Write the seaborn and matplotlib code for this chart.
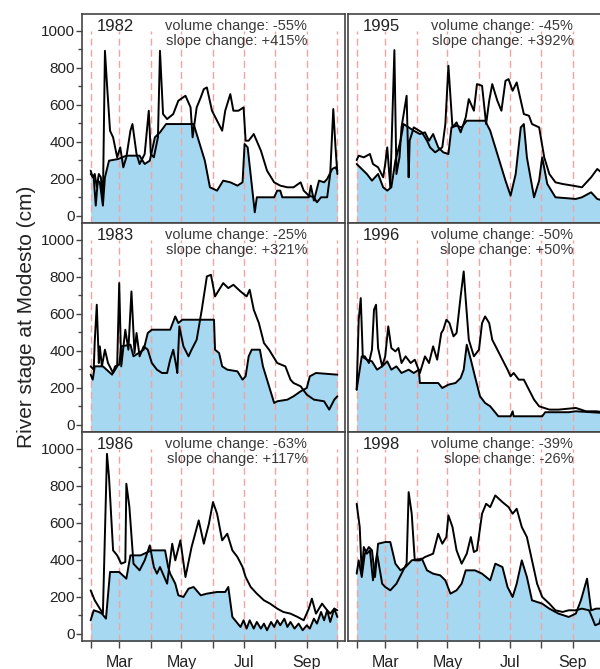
import matplotlib
matplotlib.use("Agg")
import matplotlib.pyplot as plt
import matplotlib.dates as mdates
from matplotlib.ticker import MultipleLocator
import pandas as pd
import seaborn as sns

# River stage at Modesto (cm), x = days after 1 February
# "a" = shaded series, "b" = open line

a1982_day = [0, 3, 5, 7, 9, 12, 14, 18, 27, 35, 48, 53, 58, 63, 68, 74, 101, 106, 112, 117, 124, 130, 137, 144, 149, 151,
             154, 161, 163, 180, 183, 186, 188, 214, 216, 219, 224, 229, 232, 237, 240, 242]
a1982_cm = [225, 207, 54, 189, 180, 54, 207, 297, 306, 324, 324, 279, 297, 423, 450, 495, 495, 405, 297, 153, 135, 189,
            180, 162, 180, 387, 369, 18, 99, 99, 135, 135, 99, 99, 162, 81, 189, 180, 198, 252, 261, 243]
b1982_day = [0, 2, 4, 6, 8, 10, 12, 14, 16, 19, 22, 26, 29, 32, 35, 39, 41, 45, 48, 53, 57, 59, 62, 66, 68, 71, 75, 81,
             86, 93, 98, 100, 104, 108, 111, 114, 119, 124, 129, 132, 137, 140, 145, 150, 152, 155, 160, 167, 173, 180,
             186, 193, 199, 206, 209, 214, 219, 222, 226, 232, 235, 238, 240, 242]
b1982_cm = [243, 207, 225, 153, 225, 207, 81, 891, 711, 459, 423, 315, 369, 261, 315, 459, 495, 333, 279, 333, 567, 333,
            315, 423, 891, 549, 522, 549, 621, 648, 585, 423, 585, 639, 684, 693, 567, 513, 459, 567, 657, 567, 567, 585,
            405, 405, 441, 351, 243, 180, 162, 153, 153, 180, 135, 108, 99, 72, 99, 99, 225, 576, 387, 225]

a1995_day = [0, 5, 10, 15, 21, 26, 30, 34, 38, 43, 46, 51, 56, 62, 67, 71, 75, 80, 85, 90, 93, 98, 103, 108, 126, 131,
             139, 146, 151, 156, 161, 164, 167, 174, 179, 182, 187, 195, 215, 221, 230, 236, 242]
a1995_cm = [279, 252, 225, 189, 225, 153, 135, 153, 297, 405, 495, 477, 459, 441, 450, 405, 441, 369, 342, 333, 477, 486,
            477, 513, 513, 459, 315, 189, 108, 225, 477, 495, 315, 99, 189, 315, 171, 99, 90, 99, 126, 90, 81]
b1995_day = [0, 2, 7, 13, 16, 21, 26, 28, 30, 33, 37, 39, 42, 44, 49, 51, 52, 56, 64, 69, 72, 77, 84, 87, 90, 94, 98,
             102, 107, 110, 115, 118, 123, 127, 130, 133, 138, 142, 146, 149, 153, 157, 164, 169, 172, 179, 184, 189,
             195, 202, 212, 221, 230, 236, 242]
b1995_cm = [300, 324, 315, 333, 279, 261, 207, 279, 369, 153, 895, 225, 315, 477, 648, 207, 405, 477, 450, 405, 369,
            342, 369, 495, 810, 477, 504, 450, 531, 630, 567, 711, 702, 495, 621, 711, 621, 567, 729, 738, 675, 720,
            549, 540, 495, 477, 315, 225, 180, 171, 162, 153, 207, 252, 225]

a1983_day = [0, 2, 4, 12, 21, 24, 28, 30, 39, 42, 47, 52, 56, 60, 78, 83, 86, 90, 121, 122, 126, 129, 134, 144, 149,
             152, 155, 158, 166, 169, 175, 180, 183, 193, 199, 206, 212, 215, 221, 242]
a1983_cm = [270, 243, 315, 315, 270, 315, 324, 423, 432, 369, 387, 405, 495, 513, 513, 585, 549, 567, 567, 405, 387,
            315, 297, 288, 243, 261, 369, 405, 405, 315, 207, 117, 126, 135, 153, 180, 198, 261, 279, 270]
b1983_day = [0, 3, 4, 6, 8, 9, 11, 14, 17, 22, 26, 28, 30, 34, 37, 40, 43, 45, 48, 52, 56, 60, 65, 70, 75, 78, 81, 84,
             85, 87, 91, 96, 99, 104, 109, 114, 118, 122, 127, 130, 135, 140, 147, 153, 156, 160, 165, 170, 175, 183,
             191, 196, 199, 206, 212, 219, 229, 234, 239, 242]
b1983_cm = [315, 297, 450, 648, 333, 423, 315, 405, 333, 279, 315, 765, 315, 513, 405, 720, 387, 495, 369, 423, 405,
            333, 297, 279, 279, 351, 405, 315, 279, 531, 423, 369, 405, 459, 621, 801, 810, 693, 738, 765, 738, 756,
            720, 693, 729, 621, 549, 441, 405, 333, 315, 243, 225, 207, 162, 135, 126, 81, 135, 153]

a1996_day = [0, 2, 5, 10, 15, 20, 25, 30, 34, 39, 44, 51, 56, 61, 62, 80, 84, 90, 97, 102, 105, 108, 112, 116, 121,
             126, 131, 139, 151, 153, 154, 182, 185, 208, 215, 242]
a1996_cm = [189, 261, 369, 351, 342, 297, 315, 342, 297, 315, 279, 297, 279, 297, 225, 225, 198, 216, 225, 252, 297,
            432, 351, 261, 153, 117, 99, 45, 45, 72, 45, 45, 67, 67, 72, 63]
b1996_day = [0, 2, 4, 6, 8, 12, 15, 17, 19, 21, 25, 28, 31, 34, 38, 41, 44, 48, 53, 57, 62, 67, 71, 75, 79, 83, 85, 88,
             91, 95, 98, 102, 105, 107, 110, 115, 120, 123, 126, 130, 133, 138, 143, 148, 151, 154, 159, 164, 169, 174,
             179, 189, 198, 215, 225, 235, 242]
b1996_cm = [189, 567, 684, 369, 369, 333, 405, 621, 648, 414, 315, 369, 531, 414, 396, 414, 333, 369, 333, 351, 279,
            369, 333, 423, 351, 495, 513, 567, 549, 477, 495, 693, 828, 675, 459, 369, 405, 549, 585, 549, 459, 405,
            351, 297, 261, 279, 243, 243, 189, 135, 99, 81, 81, 90, 72, 72, 67]

a1986_day = [0, 3, 8, 11, 15, 19, 28, 35, 39, 49, 56, 60, 73, 76, 78, 83, 86, 91, 96, 101, 108, 114, 124, 132, 135,
             139, 147, 150, 153, 156, 160, 163, 167, 170, 173, 177, 180, 183, 186, 190, 193, 196, 200, 204, 208, 212,
             215, 219, 222, 226, 229, 232, 235, 239, 242]
a1986_cm = [72, 126, 117, 108, 81, 333, 333, 297, 423, 423, 441, 450, 450, 360, 324, 270, 207, 198, 243, 252, 207, 216,
            225, 225, 252, 90, 36, 72, 27, 72, 27, 63, 27, 54, 18, 63, 36, 72, 45, 81, 36, 63, 27, 54, 18, 45, 27, 81,
            54, 117, 72, 126, 63, 135, 90]
b1986_day = [0, 4, 9, 12, 16, 18, 22, 26, 30, 34, 35, 38, 42, 48, 53, 58, 62, 65, 68, 75, 80, 83, 88, 93, 99, 106, 111,
             116, 120, 124, 129, 134, 139, 144, 149, 152, 157, 163, 170, 176, 183, 189, 196, 203, 209, 214, 217, 221,
             227, 232, 235, 239, 242]
b1986_cm = [234, 180, 135, 108, 972, 846, 450, 423, 378, 387, 810, 684, 378, 342, 396, 477, 360, 324, 360, 270, 486,
            396, 504, 306, 468, 612, 486, 594, 711, 648, 504, 540, 450, 414, 360, 306, 252, 216, 180, 162, 135, 117,
            108, 90, 72, 135, 189, 108, 162, 126, 108, 135, 126]

a1998_day = [0, 2, 5, 8, 12, 15, 18, 21, 28, 33, 38, 43, 48, 54, 64, 69, 75, 82, 87, 92, 98, 103, 107, 116, 123, 131,
             136, 143, 148, 153, 157, 162, 167, 172, 182, 189, 198, 208, 215, 220, 226, 230, 235, 242]
a1998_cm = [324, 396, 306, 432, 468, 450, 306, 486, 495, 495, 378, 342, 360, 396, 405, 342, 324, 315, 288, 216, 234,
            270, 342, 342, 324, 288, 378, 360, 252, 198, 270, 396, 306, 180, 162, 135, 108, 90, 108, 180, 297, 126,
            135, 135]
b1998_day = [0, 3, 5, 7, 10, 13, 16, 20, 25, 28, 33, 39, 44, 49, 51, 54, 57, 62, 67, 75, 80, 84, 88, 90, 94, 98, 103,
             108, 112, 115, 118, 123, 127, 131, 136, 143, 149, 153, 157, 162, 167, 172, 177, 182, 189, 195, 202, 208,
             215, 221, 228, 234, 238, 242]
b1998_cm = [702, 576, 324, 468, 432, 450, 288, 432, 270, 252, 234, 270, 324, 378, 765, 648, 396, 396, 414, 432, 540,
            486, 522, 639, 576, 450, 378, 432, 522, 441, 450, 648, 702, 684, 747, 711, 684, 648, 675, 576, 522, 396,
            270, 198, 162, 126, 117, 126, 126, 135, 126, 45, 54, 135]

# panel order: rows top to bottom, left column then right column
panels = [
    ("1982", a1982_day, a1982_cm, b1982_day, b1982_cm, "-55%", "+415%"),
    ("1995", a1995_day, a1995_cm, b1995_day, b1995_cm, "-45%", "+392%"),
    ("1983", a1983_day, a1983_cm, b1983_day, b1983_cm, "-25%", "+321%"),
    ("1996", a1996_day, a1996_cm, b1996_day, b1996_cm, "-50%", "+50%"),
    ("1986", a1986_day, a1986_cm, b1986_day, b1986_cm, "-63%", "+117%"),
    ("1998", a1998_day, a1998_cm, b1998_day, b1998_cm, "-39%", "-26%"),
]

sns.set_style("ticks")
plt.rcParams["font.family"] = ["Liberation Sans", "DejaVu Sans"]

base = pd.Timestamp("2001-02-01")
month_starts = pd.date_range("2001-02-01", "2001-10-01", freq="MS")
fill_color = "#a6d8f1"


def to_dates(days):
    return base + pd.to_timedelta(days, unit="D")


fig = plt.figure(figsize=(6, 6.69), dpi=100)
W, H = 600.0, 669.0

for i, (year, a_day, a_cm, b_day, b_cm, vol, slope) in enumerate(panels):
    row, col = divmod(i, 2)
    left = [82, 348][col]
    top = 14 + 209 * row
    ax = fig.add_axes([left / W, 1 - (top + 209) / H, 263 / W, 209 / H])

    xa = to_dates(a_day)
    xb = to_dates(b_day)

    ax.fill_between(xa, a_cm, -100, color=fill_color, lw=0, zorder=1)
    ax.vlines(month_starts, -100, 1000, colors="#f4a3a3", linestyles=(0, (5, 3)), lw=1.0, zorder=2)
    sns.lineplot(x=xa, y=a_cm, ax=ax, color="black", lw=1.4, estimator=None, sort=False, zorder=3)
    sns.lineplot(x=xb, y=b_cm, ax=ax, color="black", lw=1.4, estimator=None, sort=False, zorder=3)

    ax.set_xlim(base - pd.Timedelta(days=8.5), base + pd.Timedelta(days=249.5))
    ax.set_ylim(-40, 1090)
    ax.set_xlabel("")
    ax.set_ylabel("")

    ax.text(0.055, 0.975, year, transform=ax.transAxes, ha="left", va="top", fontsize=12, color="#222222")
    ax.text(0.856, 0.975, f"volume change: {vol}\nslope change: {slope}", transform=ax.transAxes,
            ha="right", va="top", fontsize=10.5, color="#3a3a3a", multialignment="right", linespacing=1.05)

    for s in ax.spines.values():
        s.set_color("#444444")
        s.set_linewidth(1.2)

    ax.yaxis.set_major_locator(MultipleLocator(200))
    ax.yaxis.set_minor_locator(MultipleLocator(100))
    ax.xaxis.set_major_locator(mdates.MonthLocator(bymonth=[3, 5, 7, 9]))
    ax.xaxis.set_minor_locator(mdates.MonthLocator(bymonth=[2, 4, 6, 8, 10]))
    ax.xaxis.set_major_formatter(mdates.DateFormatter("%b"))
    ax.tick_params(axis="both", which="both", direction="out", color="#444444", width=1.0,
                   labelsize=11, labelcolor="#222222")
    ax.tick_params(axis="y", which="major", length=4, pad=1)
    ax.tick_params(axis="y", which="minor", length=3)
    ax.tick_params(axis="x", which="both", length=5, pad=5, labelsize=11.5)

    if col == 1:
        ax.tick_params(axis="y", which="both", left=False, labelleft=False)
    if row < 2:
        ax.tick_params(axis="x", which="both", bottom=False, labelbottom=False)

fig.text(27 / W, 1 - 317 / H, "River stage at Modesto (cm)", rotation=90, ha="center", va="center",
         fontsize=15, color="#222222")

fig.savefig("out.png", dpi=100)
